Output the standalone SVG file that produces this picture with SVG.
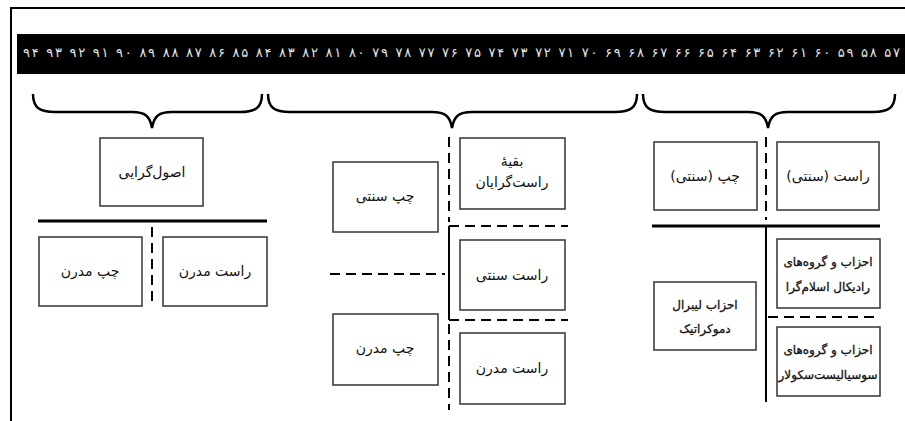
<svg xmlns="http://www.w3.org/2000/svg" width="905" height="421" viewBox="0 0 905 421">
<style>
.box{fill:#fff;stroke:#333;stroke-width:1.5}
.t{font-family:"DejaVu Sans",sans-serif;font-size:14px;fill:#111;text-anchor:middle;direction:rtl}
.tb{font-family:"DejaVu Sans",sans-serif;font-size:12px;fill:#111;stroke:#111;stroke-width:0.3;text-anchor:middle;direction:rtl}
.solid{stroke:#000;stroke-width:3;fill:none}
.vsolid{stroke:#000;stroke-width:2;fill:none}
.dash{stroke:#000;stroke-width:2;stroke-dasharray:10 6;fill:none}
.brace{stroke:#000;stroke-width:2.5;fill:none}
</style>
<rect x="0" y="0" width="905" height="421" fill="#fff"/>
<path d="M11,421 L11,8 L905,8" fill="none" stroke="#000" stroke-width="2"/>
<rect x="17" y="34" width="888" height="40" fill="#000"/>
<text x="23" y="57" font-family="DejaVu Sans,sans-serif" font-size="13" fill="#e6e6e6" textLength="877" lengthAdjust="spacing">۹۴ ۹۳ ۹۲ ۹۱ ۹۰ ۸۹ ۸۸ ۸۷ ۸۶ ۸۵ ۸۴ ۸۳ ۸۲ ۸۱ ۸۰ ۷۹ ۷۸ ۷۷ ۷۶ ۷۵ ۷۴ ۷۳ ۷۲ ۷۱ ۷۰ ۶۹ ۶۸ ۶۷ ۶۶ ۶۵ ۶۴ ۶۳ ۶۲ ۶۱ ۶۰ ۵۹ ۵۸ ۵۷</text>
<g id="connectors">
<path class="brace" d="M33,94 C33,108 40,112 55,112 L132,112 C145,112 150,116 152,128 C154,116 159,112 172,112 L240,112 C255,112 262,108 262,94"/>
<path class="brace" d="M268,94 C268,108 275,112 290,112 L432,112 C445,112 450,116 452,128 C454,116 459,112 472,112 L615,112 C630,112 637,108 637,94"/>
<path class="brace" d="M643,94 C643,108 650,112 665,112 L748,112 C761,112 766,116 768,128 C770,116 775,112 788,112 L873,112 C888,112 895,108 895,94"/>
<line class="solid" x1="38" y1="221" x2="267" y2="221"/>
<line class="dash" x1="152" y1="227" x2="152" y2="305"/>
<line class="dash" x1="449" y1="137" x2="449" y2="222"/>
<line class="vsolid" x1="449" y1="226" x2="449" y2="320"/>
<line class="dash" x1="449" y1="324" x2="449" y2="410"/>
<line class="dash" x1="449" y1="226" x2="568" y2="226"/>
<line class="dash" x1="449" y1="320" x2="568" y2="320"/>
<line class="dash" x1="330" y1="274" x2="445" y2="274"/>
<line class="dash" x1="766" y1="137" x2="766" y2="220"/>
<line class="solid" x1="652" y1="226" x2="880" y2="226"/>
<line class="vsolid" x1="766" y1="226" x2="766" y2="402"/>
<line class="dash" x1="768" y1="317" x2="880" y2="317"/>
</g>
<g id="n-osulgarayi"><rect class="box" x="100" y="138" width="103" height="68"/><text class="t" x="152" y="177">اصول‌گرایی</text></g>
<g id="n-chap-modern-1"><rect class="box" x="39" y="237" width="103" height="69"/><text class="t" x="90" y="276">چپ مدرن</text></g>
<g id="n-rast-modern-1"><rect class="box" x="163" y="237" width="104" height="69"/><text class="t" x="215" y="276">راست مدرن</text></g>
<g id="n-chap-sonnati"><rect class="box" x="333" y="162" width="105" height="70"/><text class="t" x="385" y="201">چپ سنتی</text></g>
<g id="n-chap-modern-2"><rect class="box" x="333" y="314" width="105" height="71"/><text class="t" x="385" y="353">چپ مدرن</text></g>
<g id="n-baghie"><rect class="box" x="460" y="138" width="105" height="71"/><text class="t" x="512" y="166">بقیهٔ</text><text class="t" x="512" y="187">راست‌گرایان</text></g>
<g id="n-rast-sonnati"><rect class="box" x="460" y="240" width="105" height="70"/><text class="t" x="512" y="280">راست سنتی</text></g>
<g id="n-rast-modern-2"><rect class="box" x="460" y="333" width="105" height="71"/><text class="t" x="512" y="373">راست مدرن</text></g>
<g id="n-chap-s"><rect class="box" x="654" y="142" width="103" height="68"/><text class="t" x="705" y="181">چپ (سنتی)</text></g>
<g id="n-rast-s"><rect class="box" x="777" y="142" width="102" height="68"/><text class="t" x="828" y="181">راست (سنتی)</text></g>
<g id="n-radical"><rect class="box" x="777" y="239" width="103" height="69"/><text class="tb" x="828" y="266">احزاب و گروه‌های</text><text class="tb" x="828" y="291">رادیکال اسلام‌گرا</text></g>
<g id="n-socialist"><rect class="box" x="777" y="327" width="103" height="69"/><text class="tb" x="828" y="354">احزاب و گروه‌های</text><text class="tb" x="828" y="379">سوسیالیست‌سکولار</text></g>
<g id="n-liberal"><rect class="box" x="654" y="282" width="102" height="68"/><text class="tb" x="705" y="309">احزاب لیبرال</text><text class="tb" x="705" y="333">دموکراتیک</text></g>
</svg>
